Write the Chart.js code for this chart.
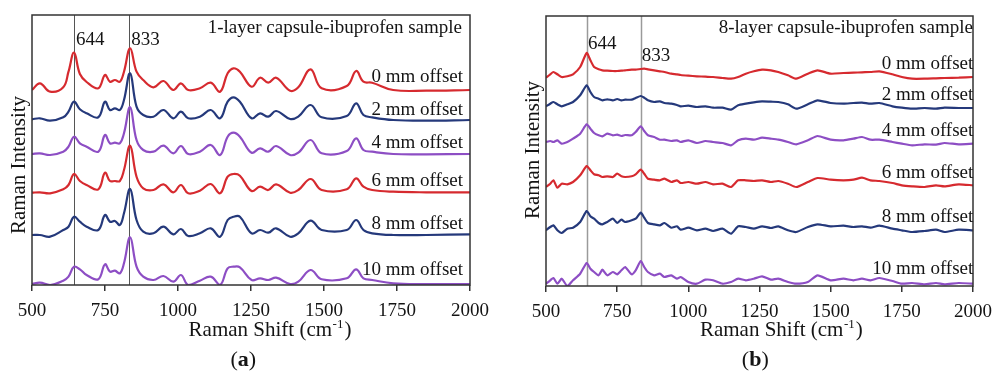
<!DOCTYPE html>
<html><head><meta charset="utf-8">
<script src="https://cdn.jsdelivr.net/npm/chart.js@4.4.1/dist/chart.umd.min.js"></script>
<style>
html,body{margin:0;padding:0;background:#fff;}
#wrap{position:relative;width:1001px;height:372px;overflow:hidden;background:#fff;}
canvas{position:absolute;top:0;}
#ca{left:0;} #cb{left:500px;}
</style></head><body>
<div id="wrap"><canvas id="ca" width="500" height="372"></canvas><canvas id="cb" width="501" height="372"></canvas></div>
<script>
// ---------- data (Raman shift in cm^-1, intensity in arbitrary offset units) ----------
const xTicks = [500, 750, 1000, 1250, 1500, 1750, 2000];
const markerLines = [644, 833];
const offsetLabels = ['0 mm offset', '2 mm offset', '4 mm offset', '6 mm offset', '8 mm offset', '10 mm offset'];
const titleA = '1-layer capsule-ibuprofen sample';
const titleB = '8-layer capsule-ibuprofen sample';

const waveA = [500,527,562,607,625,644,664,687,727,750,767,784,801,815,836,858,881,916,950,984,1010,1035,1075,1112,1144,1170,1190,1212,1252,1281,1309,1336,1384,1412,1454,1492,1578,1610,1635,1665,1737,1850,2000];
const a0  = [195,201.7,193.3,197.7,213.3,232.3,211,203,196.7,210,203.3,205,203.3,213.3,236.7,213.3,205,197.7,204,195,201.7,195,196.7,202.3,193.3,211.7,216.7,213.3,198.3,207.3,202.3,207.3,194.3,197.7,215.7,196.7,199,214,203.3,202.3,195,194.3,195];
const a2  = [165.7,166.7,164.3,167.7,173.3,183.3,175.7,171.7,167.7,183.3,175,176.7,175,185,211.7,178.3,170,168.3,175,166.7,173.3,166.7,168.3,175,166.7,183.3,187.7,183.3,166.7,171.7,168.3,174,166,168.3,180,167.7,169,181.7,170,167.7,165,164.3,165];
const a4  = [131,131.7,130,133.3,138.3,148.3,141.7,138.3,133.3,150,141.7,142.3,141.7,151.7,177.7,145,135,133.3,139.3,131.7,139,131,133.3,140,130,148.3,152.3,148.3,132.3,136.7,133.3,139,130,132.3,145,131.7,134,146.7,135,133.3,131,130.7,131];
const a6  = [92.3,92.7,91.7,95.7,100,111,104,100,95.7,112.3,104,104,104,115,139.3,108.3,96.7,95,100.7,92.7,100,91.7,94.3,101,91.7,108.3,111,109.3,94,98.3,95,100.7,92.3,95,106,95,95.7,106.7,98.3,95,93.3,92.7,92.7];
const a8  = [50,50,48.3,55,58.3,68.3,63.3,58.3,55,70,63.3,64,60,71.7,96,65,53.3,51.7,58.3,50.7,56,49,51.7,56.7,48.3,65,68.3,68.3,51.7,55,52.3,56.7,48.3,51.7,64.3,55,55,65,55,51.7,50,50,50.7];
const a10 = [1,2.3,0,4.3,8.3,18.3,15.7,10,5.7,20.7,13.3,14.3,11.7,21.7,47.7,18.3,8.3,5,9,3.3,10,0,4.3,8.3,0,16.7,18.3,17.7,5,6.7,5,7.3,1,3.3,15,5.7,6.7,15.7,6.7,5,1.7,1,1];

const waveB = [500,515,526,540,555,575,595,620,643,656,669,685,698,715,735,750,765,778,801,815,833,845,858,880,900,916,940,960,973,1000,1030,1060,1087,1120,1150,1175,1202,1230,1259,1290,1316,1350,1379,1420,1454,1500,1545,1580,1610,1640,1671,1717,1750,1786,1830,1870,1900,1950,2000];
const b0  = [208.3,211.7,214,211.7,209,209.7,211.7,219,233,225.7,219,216.7,215.7,215.3,215,215,215.3,215.7,216.3,216.3,217,217.3,216.7,215.7,214.7,214,212.3,211.7,211,210.3,209.7,209.3,209,208,207.3,209,212.3,214.7,216.3,215.7,214,210.7,207.3,212.3,215.7,212.3,213,213.3,213.7,214,214.7,211.7,209,207.3,207.3,207.7,208,208.3,209];
const b2  = [179.7,182.3,184,181.7,179.7,181.7,184,190.7,200.7,194,189,187.3,185.7,186.7,185.7,187,185.7,186.3,186.3,188,190,188.3,185.7,184,184.7,183,182.3,181,179.7,180.3,179,179.7,178.3,178.3,176.3,180.7,182.3,183.7,184.7,184.3,184,181.7,177.3,181.7,185.7,183,182.3,183,183.3,182.3,183,179.7,178.3,177.3,178,177.3,178.3,178,178];
const b4  = [144,145,144,145.7,142.3,144,147.3,152.3,161.7,157.3,153,150.7,149.7,152.3,150.7,151.3,150,151,150.7,154,159.7,155,150.7,149,146.3,146.3,145,145.7,144,145.7,143,145,144,143,140.7,145.7,147.3,146.3,148.3,147.3,146.3,144,141.7,145.7,150,146.3,145.7,147.3,149,146.3,146.3,144,142.3,140.7,141.7,141.3,143,141.7,142.3];
const b6  = [99,102.3,105.7,98.3,102.3,101.7,104,110.7,120,115.7,111.7,110.7,109,109.7,109,112.3,109.7,109,109.7,111.7,116.3,112.3,107.3,106.3,105.7,107.3,104,105.7,103,104,102.3,104,101.7,102.3,99,105.7,105.7,105,105.7,104,105,102.3,99,104,108,106.3,105.7,106.3,108.3,105.7,105,103,100.7,99.7,99,100.7,99.7,101.7,100.7];
const b8  = [55.7,59,60.7,55.7,53,57.3,58.3,64,75,69.7,67.3,63,61.7,64,67.3,63,66.3,64,65.7,67.3,73.3,68.3,63,61.7,60.7,63,58.3,59.7,56.3,58.3,55.7,57.3,55,57.3,52.3,59.7,59,57.3,59.7,58,59.7,55.7,54,59,61.7,59.7,60.3,59,59.7,58.3,60.3,57.3,55.7,54,55,56.3,54,56.3,55.7];
const b10 = [2.3,5.7,8,2.3,7.3,0,5.7,12.3,23,17.3,14,10.7,16.3,10.7,14,11.7,15.7,19,11.7,15.7,25,19,14,10.7,12.3,9,10.7,7.3,9,4,2.3,6.3,5.7,2.3,4,7.3,5.7,7.3,9.7,6.3,7.3,4,2.3,4,10.7,5.7,7.3,5.7,7.3,5.7,8,5,2.3,3,1.7,3,1.7,3,2.3];

// ---------- styling ----------
const lineColors = ['#d62a2f', '#25397b', '#8d4ec4', '#d62a2f', '#25397b', '#8d4ec4'];
const SERIF = '"Liberation Serif", "Times New Roman", serif';
const TXT = '#141414';

function panelPlugin(c) {
  return {
    id: 'panel' + c.panel,
    beforeDatasetsDraw(chart) {
      const { ctx, chartArea: a, scales: { x } } = chart;
      ctx.save();
      ctx.strokeStyle = c.vColor; ctx.lineWidth = c.vWidth;
      markerLines.forEach(v => {
        const px = Math.round(x.getPixelForValue(v)) + 0.5;
        ctx.beginPath(); ctx.moveTo(px, a.top); ctx.lineTo(px, a.bottom); ctx.stroke();
      });
      ctx.restore();
    },
    afterDraw(chart) {
      const { ctx, chartArea: a, scales: { x } } = chart;
      ctx.save();
      ctx.strokeStyle = '#333'; ctx.lineWidth = 1.5;
      ctx.strokeRect(a.left, a.top, a.right - a.left, a.bottom - a.top);
      ctx.fillStyle = TXT; ctx.textBaseline = 'alphabetic';
      ctx.font = '19px ' + SERIF; ctx.textAlign = 'right';
      ctx.fillText(c.title, c.titleRight, c.titleBase);
      c.seriesBase.forEach((b, i) => ctx.fillText(offsetLabels[i], c.seriesRight, b));
      ctx.textAlign = 'left';
      markerLines.forEach((v, i) => ctx.fillText(String(v), x.getPixelForValue(v) + c.peakDx, c.peakBase[i]));
      // x axis title with superscript
      ctx.font = '21px ' + SERIF;
      const p1 = 'Raman Shift (cm', p3 = ')';
      const w1 = ctx.measureText(p1).width, w3 = ctx.measureText(p3).width;
      ctx.font = '13px ' + SERIF;
      const sup = '-1'; const w2 = ctx.measureText(sup).width;
      const total = w1 + w2 + w3 + 1.5;
      let sx = c.xtCenter - total / 2;
      ctx.font = '21px ' + SERIF; ctx.fillText(p1, sx, c.xtBase);
      ctx.font = '13px ' + SERIF; ctx.fillText(sup, sx + w1 + 0.5, c.xtBase - 8);
      ctx.font = '21px ' + SERIF; ctx.fillText(p3, sx + w1 + w2 + 1.5, c.xtBase);
      // y axis title
      ctx.save();
      ctx.translate(c.ytX, c.ytCenter); ctx.rotate(-Math.PI / 2);
      ctx.textAlign = 'center'; ctx.font = '21px ' + SERIF;
      ctx.fillText('Raman Intensity', 0, 0);
      ctx.restore();
      // panel label
      ctx.font = '22px ' + SERIF;
      const wo = ctx.measureText('(').width, wc = ctx.measureText(')').width;
      ctx.font = 'bold 22px ' + SERIF;
      const wl = ctx.measureText(c.panel).width;
      let px = c.plCenter - (wo + wl + wc) / 2;
      ctx.textAlign = 'left';
      ctx.font = '22px ' + SERIF; ctx.fillText('(', px, c.plBase);
      ctx.font = 'bold 22px ' + SERIF; ctx.fillText(c.panel, px + wo, c.plBase);
      ctx.font = '22px ' + SERIF; ctx.fillText(')', px + wo + wl, c.plBase);
      ctx.restore();
    }
  };
}

function makeChart(id, wave, series, pad, tension, c) {
  const datasets = series.map((s, i) => ({
    data: wave.map((w, j) => ({ x: w, y: s[j] })),
    borderColor: lineColors[i], borderWidth: 2.2, pointRadius: 0,
    tension: tension, fill: false
  }));
  return new Chart(document.getElementById(id), {
    type: 'line',
    data: { datasets },
    options: {
      responsive: false, animation: false, events: [],
      layout: { padding: pad },
      plugins: { legend: { display: false }, tooltip: { enabled: false } },
      scales: {
        x: {
          type: 'linear', min: 500, max: 2000,
          afterBuildTicks: s => { s.ticks = xTicks.map(v => ({ value: v })); },
          ticks: { font: { family: SERIF, size: 19 }, color: TXT, padding: 9, maxRotation: 0, autoSkip: false, callback: v => String(v) },
          grid: { display: true, drawOnChartArea: false, drawTicks: true, tickLength: 6, color: '#333', lineWidth: 1.5 },
          border: { display: false },
          afterFit: s => { s.height = 60; }
        },
        y: { display: false, min: 0, max: 270 }
      }
    },
    plugins: [panelPlugin(c)]
  });
}

makeChart('ca', waveA, [a0, a2, a4, a6, a8, a10], { left: 32, right: 30, top: 15, bottom: 27 }, 0.4, {
  panel: 'a', title: titleA, titleRight: 462, titleBase: 32.5,
  seriesRight: 463, seriesBase: [81.7, 115, 148.3, 185.7, 229.3, 275],
  peakDx: 2, peakBase: [45, 45],
  xtCenter: 270, xtBase: 336, ytX: 25, ytCenter: 165,
  plCenter: 243.3, plBase: 365.5, vColor: '#555', vWidth: 1
});
makeChart('cb', waveB, [b0, b2, b4, b6, b8, b10], { left: 46, right: 19, top: 16, bottom: 26 }, 0.2, {
  panel: 'b', title: titleB, titleRight: 473, titleBase: 33,
  seriesRight: 473.3, seriesBase: [69.3, 100, 135.7, 177.7, 221.7, 274.3],
  peakDx: 1, peakBase: [49.3, 61],
  xtCenter: 281.3, xtBase: 336, ytX: 38.5, ytCenter: 150,
  plCenter: 255.3, plBase: 365.5, vColor: '#9a9a9a', vWidth: 1.5
});
</script>
</body></html>
